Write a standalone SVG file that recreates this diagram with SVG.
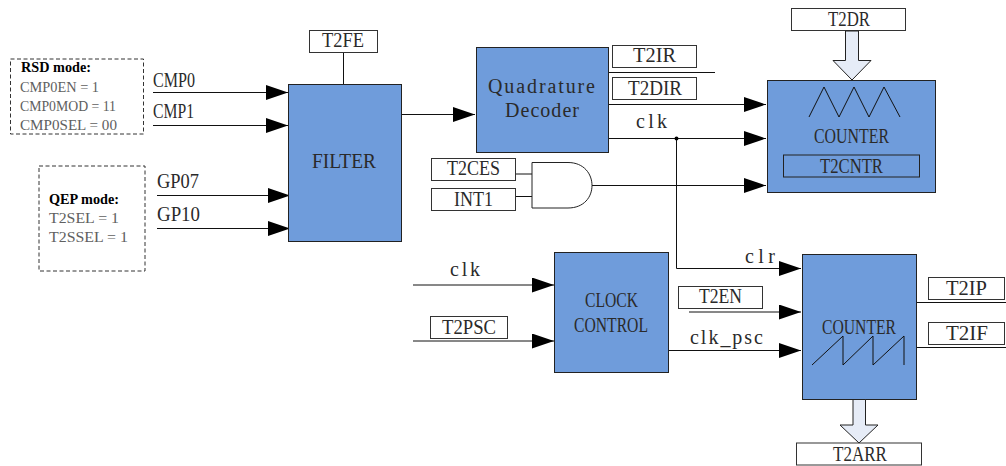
<svg xmlns="http://www.w3.org/2000/svg" width="1006" height="466" viewBox="0 0 1006 466">
<style>
text{font-family:"Liberation Serif",serif;fill:#2a2a2a;text-anchor:start}
.t{font-size:20px}
.s{font-size:15px;fill:#606060}
.b{font-size:15px;font-weight:bold;fill:#000}
.w{fill:#fff;stroke:#333;stroke-width:1}
.n{fill:#6f9cdb;stroke:#222;stroke-width:1}
.d{fill:none;stroke:#333;stroke-width:1;stroke-dasharray:4 2.5}
.c{fill:none;stroke:#111;stroke-width:1}
.a{fill:none;stroke:#111;stroke-width:1;marker-end:url(#ah)}
.h{fill:#e6ecf7;stroke:#222;stroke-width:1}
</style>
<defs><marker id="ah" markerUnits="userSpaceOnUse" markerWidth="23" markerHeight="15" refX="22" refY="7.500" orient="auto"><path d="M0 0L22 7.500L0 15Z" fill="#000"/></marker></defs>
<g id="connectors">
<path class="a" d="M153 92.500H288"/>
<path class="a" d="M153 125.500H288"/>
<path class="a" d="M157 195.500H290"/>
<path class="a" d="M157 228.500H290"/>
<path class="c" d="M343.500 53V84"/>
<path class="a" d="M402 114.500H475"/>
<path class="c" d="M608 72.500H715"/>
<path class="a" d="M608 104.500H766"/>
<path class="a" d="M608 138.500H766"/>
<path class="a" d="M676.500 138V268.500H801"/>
<circle cx="676.500" cy="138.500" r="2" fill="#000"/>
<path class="c" d="M516 174H532M516 196.500H532"/>
<path class="a" d="M592 185.500H766"/>
<path class="a" d="M413 285H554"/>
<path class="a" d="M413 341H554"/>
<path class="a" d="M689 312H801"/>
<path class="a" d="M668 350.500H801"/>
<path class="c" d="M916 302.500H1006M916 347.500H1006"/>
</g>
<g id="rsd-mode"><rect class="d" x="10.500" y="59" width="133" height="75"/>
<text class="b" x="21" y="72" textLength="70" lengthAdjust="spacingAndGlyphs">RSD mode:</text><text class="s" x="20" y="92" textLength="79" lengthAdjust="spacingAndGlyphs">CMP0EN = 1</text><text class="s" x="20" y="111" textLength="96" lengthAdjust="spacingAndGlyphs">CMP0MOD = 11</text><text class="s" x="20" y="130" textLength="97" lengthAdjust="spacingAndGlyphs">CMP0SEL = 00</text></g>
<g id="qep-mode"><rect class="d" x="39" y="166" width="106" height="105"/>
<text class="b" x="49" y="204" textLength="70" lengthAdjust="spacingAndGlyphs">QEP mode:</text><text class="s" x="49" y="223" textLength="70" lengthAdjust="spacingAndGlyphs">T2SEL = 1</text><text class="s" x="49" y="242" textLength="79" lengthAdjust="spacingAndGlyphs">T2SSEL = 1</text></g>
<text class="t" x="153" y="87" textLength="42" lengthAdjust="spacingAndGlyphs">CMP0</text><text class="t" x="153" y="118" textLength="41" lengthAdjust="spacingAndGlyphs">CMP1</text><text class="t" x="157" y="188" textLength="42" lengthAdjust="spacingAndGlyphs">GP07</text><text class="t" x="157" y="221" textLength="43" lengthAdjust="spacingAndGlyphs">GP10</text>
<g id="t2fe"><rect class="w" x="309.500" y="30.500" width="68" height="22"/><text class="t" x="322" y="47" textLength="42" lengthAdjust="spacingAndGlyphs">T2FE</text></g>
<g id="filter"><rect class="n" x="288.500" y="84.500" width="113" height="157"/><text class="t" x="312" y="168" textLength="64" lengthAdjust="spacingAndGlyphs">FILTER</text></g>
<g id="quadrature-decoder"><rect class="n" x="476.500" y="47.500" width="132" height="105"/><text class="t" x="488" y="93" textLength="107">Quadrature</text><text class="t" x="505" y="117" textLength="74">Decoder</text></g>
<g id="t2ir"><rect class="w" x="612.500" y="45.500" width="84" height="22"/><text class="t" x="633" y="62" textLength="43" lengthAdjust="spacingAndGlyphs">T2IR</text></g>
<g id="t2dir"><rect class="w" x="612.500" y="77.500" width="84" height="22"/><text class="t" x="628" y="95" textLength="54" lengthAdjust="spacingAndGlyphs">T2DIR</text></g>
<text class="t" x="636" y="128" textLength="31">clk</text>
<g id="t2ces"><rect class="w" x="431.500" y="158.500" width="84" height="22"/><text class="t" x="447" y="175" textLength="53" lengthAdjust="spacingAndGlyphs">T2CES</text></g>
<g id="int1"><rect class="w" x="431.500" y="188.500" width="84" height="22"/><text class="t" x="454" y="206" textLength="39" lengthAdjust="spacingAndGlyphs">INT1</text></g>
<g id="and-gate"><path d="M532 162.500H568C584 162.500 592 174 592 185.500C592 197 584 208 568 208H532Z" fill="#fff" stroke="#222"/></g>
<g id="t2dr"><rect class="w" x="791.500" y="8.500" width="114" height="22"/><text class="t" x="828" y="26" textLength="42" lengthAdjust="spacingAndGlyphs">T2DR</text>
<path class="h" d="M845.500 31H858.500V60.500H871L852 80L833 60.500H845.500Z"/></g>
<g id="counter-up-down"><rect class="n" x="767.500" y="80.500" width="168" height="112"/>
<path class="c" d="M809 117L824 87L839 117L854 87L869 117L884 87L900 117"/>
<text class="t" x="814" y="143" textLength="75" lengthAdjust="spacingAndGlyphs">COUNTER</text>
<rect x="783.500" y="155" width="136" height="22" fill="none" stroke="#222"/><text class="t" x="820" y="173" textLength="63" lengthAdjust="spacingAndGlyphs">T2CNTR</text></g>
<g id="clock-control"><rect class="n" x="554.500" y="252.500" width="114" height="120"/><text class="t" x="585" y="307" textLength="53" lengthAdjust="spacingAndGlyphs">CLOCK</text><text class="t" x="574" y="332" textLength="74" lengthAdjust="spacingAndGlyphs">CONTROL</text></g>
<text class="t" x="450" y="276" textLength="30">clk</text>
<g id="t2psc"><rect class="w" x="430.500" y="316.500" width="77" height="22"/><text class="t" x="442" y="334" textLength="54" lengthAdjust="spacingAndGlyphs">T2PSC</text></g>
<text class="t" x="745" y="263" textLength="30">clr</text>
<g id="t2en"><rect class="w" x="678.500" y="286.500" width="84" height="22"/><text class="t" x="699" y="303" textLength="43" lengthAdjust="spacingAndGlyphs">T2EN</text></g>
<text class="t" x="690" y="344" textLength="73">clk_psc</text>
<g id="counter-saw"><rect class="n" x="802.500" y="254.500" width="114" height="145"/>
<text class="t" x="822" y="334" textLength="74" lengthAdjust="spacingAndGlyphs">COUNTER</text>
<path class="c" d="M812 365L843 336V365L873 336V365L904 336V365"/></g>
<g id="t2ip"><rect class="w" x="928.500" y="277.500" width="76" height="22"/><text class="t" x="946" y="295" textLength="41" lengthAdjust="spacingAndGlyphs">T2IP</text></g>
<g id="t2if"><rect class="w" x="928.500" y="322.500" width="76" height="22"/><text class="t" x="946" y="340" textLength="42" lengthAdjust="spacingAndGlyphs">T2IF</text></g>
<g id="t2arr"><path class="h" d="M853 399.500H865.500V425H878L859 443L840 425H853Z"/><rect class="w" x="796.500" y="443" width="125" height="22"/><text class="t" x="833" y="461" textLength="54" lengthAdjust="spacingAndGlyphs">T2ARR</text></g>
</svg>
